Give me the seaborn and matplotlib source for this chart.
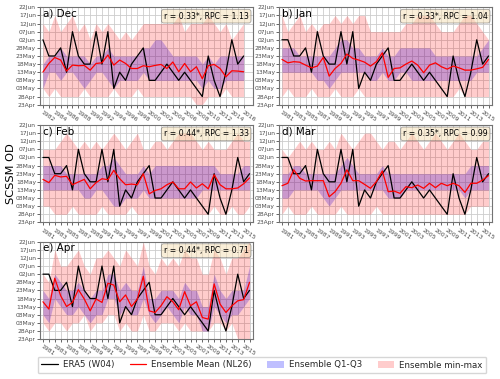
import matplotlib
matplotlib.use("Agg")
import matplotlib.pyplot as plt
import seaborn as sns
import pandas as pd
from matplotlib.lines import Line2D
from matplotlib.patches import Patch

# ---------------- data (day of year, non-leap) ----------------
years = list(range(1981, 2017))        # Jan-Apr initialisations
years_dec = list(range(1982, 2017))    # Dec initialisation

era5 = [153, 153, 143, 143, 148, 133, 158, 143, 138, 138, 158, 138, 158, 123, 133, 128, 138, 143,
        148, 128, 128, 133, 138, 133, 128, 133, 128, 123, 118, 143, 128, 118, 133, 153, 138, 143]

dec_mean = [133.1, 138.4, 142.1, 140.5, 133.7, 137.4, 137.0, 137.2, 134.3, 138.4, 138.8, 143.6,
            137.4, 140.5, 138.4, 135.3, 135.3, 137.0, 136.4, 137.2, 137.8, 135.3, 139.3, 133.3,
            138.4, 133.3, 136.4, 129.0, 137.0, 137.8, 135.3, 130.2, 133.9, 133.7, 133.3]
dec_q1 = [123, 133, 133, 128, 133, 133, 128, 123, 128, 133, 133, 128, 123, 128, 128, 128, 128, 133,
          128, 128, 128, 128, 128, 128, 128, 128, 128, 123, 128, 123, 123, 128, 128, 128, 128]
dec_q3 = [138, 143, 143, 148, 143, 143, 143, 143, 138, 143, 143, 148, 143, 143, 143, 143, 143, 148,
          148, 153, 153, 148, 143, 143, 143, 143, 143, 138, 143, 138, 143, 143, 143, 143, 143]
dec_min = [123, 118, 123, 118, 118, 118, 118, 123, 118, 118, 118, 118, 123, 118, 118, 118, 123, 118,
           118, 118, 118, 118, 118, 118, 118, 118, 113, 113, 118, 118, 118, 123, 118, 118, 118]
dec_max = [163, 158, 168, 158, 163, 168, 158, 163, 153, 163, 158, 163, 158, 153, 158, 153, 158, 163,
           163, 163, 163, 163, 163, 168, 158, 163, 163, 163, 168, 163, 158, 163, 153, 158, 163]

jan_mean = [140.9, 138.8, 139.5, 139.2, 137.4, 135.7, 136.8, 142.1, 130.6, 135.3, 138.4, 144.2,
            141.5, 140.5, 139.2, 136.8, 139.5, 145.0, 129.8, 135.3, 135.7, 138.0, 139.9, 137.4,
            132.7, 137.4, 138.8, 136.4, 134.9, 136.8, 135.7, 134.3, 134.3, 135.1, 136.0, 140.9]
jan_q1 = [133, 133, 133, 133, 133, 133, 128, 128, 123, 128, 133, 133, 133, 133, 133, 128, 128, 133,
          128, 128, 133, 133, 128, 128, 128, 128, 128, 128, 128, 128, 128, 128, 128, 133, 133, 133]
jan_q3 = [148, 148, 148, 143, 143, 143, 143, 143, 143, 148, 153, 153, 148, 148, 143, 143, 143, 148,
          143, 143, 148, 148, 148, 148, 148, 148, 143, 143, 143, 143, 143, 143, 143, 143, 148, 153]
jan_min = [118, 123, 118, 118, 118, 123, 118, 118, 118, 123, 118, 118, 118, 123, 118, 118, 118, 118,
           118, 118, 118, 118, 118, 118, 118, 118, 118, 118, 118, 118, 123, 118, 118, 118, 118, 118]
jan_max = [168, 158, 163, 168, 158, 163, 158, 163, 163, 168, 163, 168, 163, 168, 168, 158, 158, 158,
           158, 158, 158, 163, 163, 168, 168, 168, 163, 158, 158, 158, 163, 168, 168, 163, 158, 153]

feb_mean = [139.5, 137.5, 142.0, 141.0, 141.4, 136.2, 137.9, 139.5, 133.7, 137.5, 139.9, 139.3,
            145.1, 139.9, 136.2, 136.6, 136.2, 143.0, 130.6, 132.7, 133.7, 136.2, 137.9, 133.7,
            133.7, 137.9, 134.2, 136.8, 133.7, 142.4, 136.2, 133.7, 133.7, 134.2, 136.8, 140.4]
feb_q1 = [133, 133, 133, 133, 133, 133, 133, 128, 128, 133, 133, 128, 123, 123, 128, 128, 128, 133,
          128, 128, 128, 128, 128, 128, 128, 128, 128, 133, 133, 133, 133, 133, 133, 133, 133, 133]
feb_q3 = [148, 148, 148, 148, 143, 143, 143, 143, 143, 143, 148, 148, 153, 148, 143, 143, 143, 148,
          143, 148, 148, 148, 148, 148, 148, 148, 148, 148, 148, 148, 143, 143, 143, 143, 148, 148]
feb_min = [123, 123, 118, 118, 118, 123, 118, 118, 118, 118, 123, 118, 118, 118, 118, 123, 118, 118,
           118, 118, 118, 118, 118, 118, 118, 118, 118, 118, 118, 123, 118, 118, 123, 118, 118, 123]
feb_max = [158, 158, 158, 163, 168, 163, 158, 163, 158, 163, 158, 163, 168, 163, 158, 163, 168, 158,
           158, 163, 163, 158, 163, 168, 168, 168, 163, 158, 163, 158, 158, 158, 163, 168, 163, 163]

mar_mean = [135.6, 137.1, 145.4, 140.2, 138.5, 138.7, 138.7, 138.7, 128.8, 131.9, 137.1, 145.4,
            138.7, 138.7, 136.4, 134.0, 138.1, 144.7, 131.9, 132.3, 130.9, 135.0, 134.4, 136.0,
            134.0, 137.1, 134.4, 137.1, 135.6, 137.1, 135.6, 131.5, 137.1, 137.1, 139.1, 141.8]
mar_q1 = [128, 128, 133, 133, 133, 133, 133, 128, 123, 128, 133, 133, 133, 133, 133, 133, 133, 133,
          128, 128, 128, 133, 133, 133, 133, 133, 133, 133, 133, 133, 133, 128, 133, 133, 133, 133]
mar_q3 = [143, 143, 148, 148, 143, 143, 143, 143, 143, 143, 148, 153, 148, 143, 143, 143, 143, 148,
          143, 143, 143, 143, 143, 143, 143, 143, 143, 143, 143, 143, 143, 143, 148, 148, 148, 148]
mar_min = [118, 123, 118, 118, 118, 123, 118, 118, 118, 118, 123, 118, 118, 118, 118, 118, 123, 118,
           118, 118, 118, 118, 118, 118, 118, 118, 118, 118, 118, 118, 118, 118, 123, 123, 123, 123]
mar_max = [158, 153, 158, 163, 158, 163, 158, 158, 163, 158, 168, 163, 158, 163, 168, 168, 163, 158,
           163, 163, 158, 163, 168, 163, 158, 163, 168, 163, 158, 163, 168, 163, 158, 158, 163, 163]

apr_mean = [136.0, 131.5, 150.5, 139.7, 133.1, 135.6, 143.5, 137.7, 130.4, 137.7, 135.6, 147.4,
            146.3, 136.0, 140.2, 133.1, 137.7, 151.7, 130.4, 129.4, 133.5, 139.1, 136.0, 131.1,
            142.2, 133.5, 136.0, 126.3, 125.3, 147.0, 134.6, 129.4, 133.5, 136.6, 137.3, 148.0]
apr_q1 = [128, 123, 138, 133, 128, 128, 133, 128, 123, 128, 128, 138, 138, 128, 133, 128, 128, 138,
          128, 123, 128, 133, 128, 123, 133, 128, 128, 118, 118, 133, 128, 123, 128, 128, 133, 138]
apr_q3 = [143, 138, 153, 148, 143, 143, 148, 143, 138, 143, 143, 153, 153, 143, 148, 143, 143, 158,
          138, 138, 143, 143, 143, 138, 148, 143, 143, 133, 133, 153, 143, 138, 143, 143, 143, 158]
apr_min = [123, 118, 123, 123, 118, 123, 123, 128, 118, 123, 123, 128, 128, 118, 123, 118, 118, 128,
           118, 118, 123, 123, 123, 118, 123, 118, 118, 118, 118, 123, 123, 118, 123, 113, 113, 113]
apr_max = [153, 148, 168, 158, 158, 163, 168, 158, 153, 163, 163, 168, 163, 158, 168, 163, 158, 173,
           158, 153, 163, 158, 163, 158, 168, 163, 163, 153, 153, 168, 163, 153, 163, 163, 168, 173]

panel_titles = ["a) Dec", "b) Jan", "c) Feb", "d) Mar", "e) Apr"]
stats_text = ["r = 0.33*, RPC = 1.13", "r = 0.33*, RPC = 1.04", "r = 0.44*, RPC = 1.33",
              "r = 0.35*, RPC = 0.99", "r = 0.44*, RPC = 0.71"]
ytick_doy = [113, 118, 123, 128, 133, 138, 143, 148, 153, 158, 163, 168, 173]
ytick_labels = ["23Apr", "28Apr", "03May", "08May", "13May", "18May", "23May",
                "28May", "02Jun", "07Jun", "12Jun", "17Jun", "22Jun"]
legend_labels = ["ERA5 (W04)", "Ensemble Mean (NL26)", "Ensemble Q1-Q3", "Ensemble min-max"]

# ---------------- style ----------------
sns.set_theme(style="whitegrid")
plt.rcParams.update({
    "font.family": ["DejaVu Sans"],
    "axes.edgecolor": "0.45",
    "axes.linewidth": 0.8,
    "grid.color": "0.8",
    "grid.linewidth": 0.6,
    "xtick.bottom": True, "ytick.left": True,
    "xtick.major.size": 2, "ytick.major.size": 2,
    "xtick.major.width": 0.6, "ytick.major.width": 0.6,
    "xtick.color": "0.3", "ytick.color": "0.3",
    "xtick.major.pad": 1.5, "ytick.major.pad": 1.0,
})

panels = [
    (years_dec, era5[1:], dec_mean, dec_q1, dec_q3, dec_min, dec_max),
    (years, era5, jan_mean, jan_q1, jan_q3, jan_min, jan_max),
    (years, era5, feb_mean, feb_q1, feb_q3, feb_min, feb_max),
    (years, era5, mar_mean, mar_q1, mar_q3, mar_min, mar_max),
    (years, era5, apr_mean, apr_q1, apr_q3, apr_min, apr_max),
]

W, H = 500, 379
fig = plt.figure(figsize=(W / 100, H / 100), dpi=100)
col_left = [40, 279]
row_top = [7.3, 125, 241.7]
ax_w, ax_h = 212.5, 97.4

for k, (yrs, obs, mean, q1, q3, mn, mx) in enumerate(panels):
    r, c = divmod(k, 2)
    ax = fig.add_axes([col_left[c] / W, 1 - (row_top[r] + ax_h) / H, ax_w / W, ax_h / H])
    df = pd.DataFrame({"year": yrs, "obs": obs, "mean": mean,
                       "q1": q1, "q3": q3, "mn": mn, "mx": mx})
    ax.fill_between(df["year"], df["q1"], df["q3"], color="blue", alpha=0.25, lw=0, zorder=1)
    ax.fill_between(df["year"], df["mn"], df["mx"], color="red", alpha=0.2, lw=0, zorder=2)
    sns.lineplot(data=df, x="year", y="obs", ax=ax, color="black", lw=0.9, zorder=3)
    sns.lineplot(data=df, x="year", y="mean", ax=ax, color="red", lw=0.9, zorder=4)
    ax.set_xlim(yrs[0] - 0.5, yrs[0] + 35.5)
    ax.set_ylim(ytick_doy[0], ytick_doy[-1])
    ax.set_xticks(yrs)
    ax.set_xticklabels([str(y) if i % 2 == 0 else "" for i, y in enumerate(yrs)],
                       rotation=-35, ha="left", rotation_mode="anchor", fontsize=4.4)
    ax.set_yticks(ytick_doy)
    ax.set_yticklabels(ytick_labels, fontsize=4.3)
    ax.set_xlabel("")
    ax.set_ylabel("")
    ax.grid(True, which="major")
    ax.text(0.012, 0.985, panel_titles[k], transform=ax.transAxes, ha="left", va="top",
            fontsize=7.5, color="black", zorder=6)
    ax.text(0.982, 0.955, stats_text[k], transform=ax.transAxes, ha="right", va="top",
            fontsize=5.6, color="black", zorder=6,
            bbox=dict(boxstyle="round,pad=0.3", facecolor="wheat", alpha=0.5, edgecolor="0.3", lw=0.6))

fig.text(0.022, 1 - (125 + ax_h / 2) / H, "SCSSM OD", rotation=90, ha="center", va="center",
         fontsize=8.2, color="black")

handles = [Line2D([0], [0], color="black", lw=0.9),
           Line2D([0], [0], color="red", lw=0.9),
           Patch(facecolor="blue", alpha=0.25, edgecolor="none"),
           Patch(facecolor="red", alpha=0.2, edgecolor="none")]
fig.legend(handles, legend_labels, loc="center", bbox_to_anchor=(262 / W, 1 - 365 / H),
           ncol=4, fontsize=6.2, frameon=True, handlelength=1.9, columnspacing=1.8,
           borderpad=0.45, handletextpad=0.6, edgecolor="0.8", fancybox=True)

fig.savefig("out.png", dpi=100)
